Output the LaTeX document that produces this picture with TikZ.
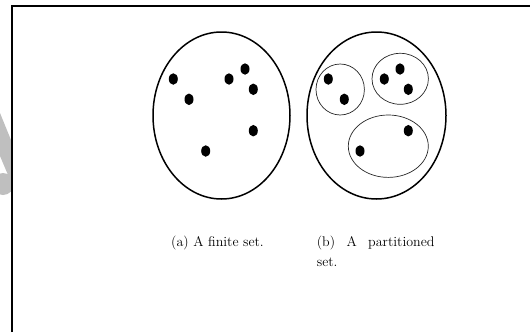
\documentclass[tikz,border=0pt]{standalone}
\usetikzlibrary{shapes.geometric}
\begin{document}
\begin{tikzpicture}[x=1pt,y=-1pt,
  bigset/.style={draw=black,line width=1.5pt,ellipse,inner sep=0pt},
  part/.style={draw=black!85,line width=0.7pt,ellipse,inner sep=0pt},
  elem/.style={fill=black,draw=none,ellipse,minimum width=9pt,minimum height=11.5pt,inner sep=0pt},
  captext/.style={font=\fontsize{14}{20}\selectfont,inner sep=0pt,anchor=base west},
  frameline/.style={draw=black,line width=1.6pt},
  wmark/.style={fill=black!25,draw=none}]
\useasboundingbox (0,0) rectangle (530,332);
% watermark fragment
\begin{scope}
\clip (0,0) rectangle (11,332);
\fill[wmark] (0,113) -- (11,140) -- (11,182) -- (0,156) -- cycle;
\fill[wmark] (3,184) circle (11);
\end{scope}
% frame
\coordinate (fbl) at (12,332);
\coordinate (ftl) at (12,6);
\coordinate (ftr) at (530,6);
\draw[frameline] (fbl) -- (ftl) -- (ftr);
% left set
\node[bigset,minimum width=137pt,minimum height=167pt] (A) at (221.5,115.5) {};
\foreach \n/\x/\y in {a1/173.3/79,a2/189/99.3,a3/229/79,a4/245/69,a5/253.3/89.3,a6/253.3/130.7,a7/205.7/151}
  \node[elem] (\n) at (\x,\y) {};
% right set
\node[bigset,minimum width=139pt,minimum height=167pt] (B) at (376.5,115.5) {};
\node[part,minimum width=48.4pt,minimum height=51pt] (P1) at (340.2,89.5) {};
\node[part,minimum width=56.4pt,minimum height=51pt] (P2) at (400.2,78.8) {};
\node[part,minimum width=80pt,minimum height=62.4pt] (P3) at (388.3,146.2) {};
\foreach \n/\x/\y in {b1/328.3/79,b2/344.3/99.3,b3/384.3/79,b4/400/69,b5/408.3/89.3,b6/408.3/130.7,b7/360/151}
  \node[elem] (\n) at (\x,\y) {};
% captions
\node[captext] (capa) at (171,246) {(a) A finite set.};
\node[captext,align=left] (capb) at (316.7,266) {\makebox[117.6pt][s]{(b) A partitioned}\\set.};
\end{tikzpicture}
\end{document}
